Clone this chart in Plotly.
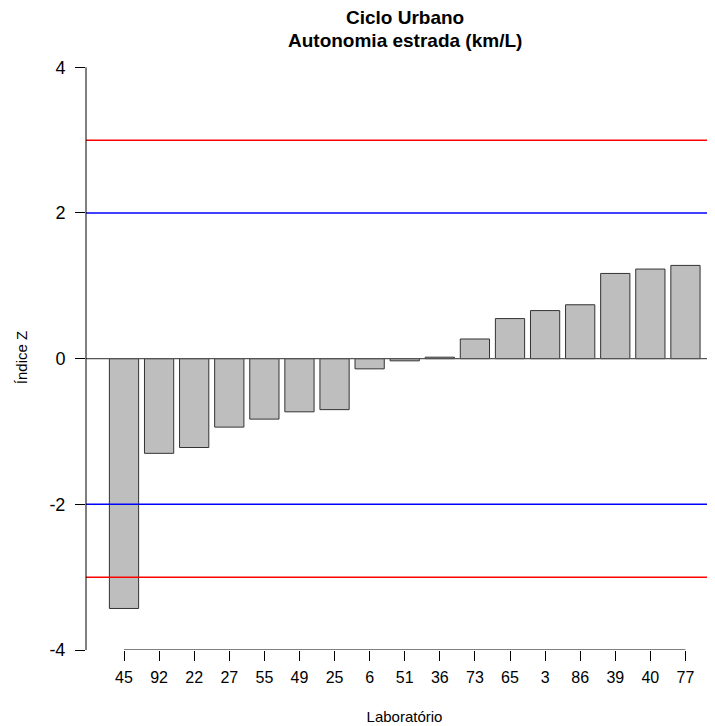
import plotly.graph_objects as go

# laboratorios e indice Z
labs = ['45', '92', '22', '27', '55', '49', '25', '6', '51', '36',
        '73', '65', '3', '86', '39', '40', '77']
z_vals = [-3.43, -1.30, -1.22, -0.94, -0.83, -0.73, -0.70, -0.14, -0.03, 0.02,
          0.27, 0.55, 0.66, 0.74, 1.17, 1.23, 1.28]
y_ticks = [-4, -2, 0, 2, 4]
limites = [(3, 'red'), (-3, 'red'), (2, 'blue'), (-2, 'blue')]

FONT = 'Liberation Sans, Arial, sans-serif'

fig = go.Figure()
fig.add_trace(go.Bar(
    x=list(range(len(labs))),
    y=z_vals,
    marker=dict(color='#bebebe', line=dict(color='#333333', width=1)),
    showlegend=False,
    hoverinfo='x+y'
))

shapes = []
for val, cor in limites:
    shapes.append(dict(type='line', xref='paper', x0=0, x1=1, yref='y', y0=val, y1=val,
                       line=dict(color=cor, width=1.5)))
# linha do zero
shapes.append(dict(type='line', xref='paper', x0=0, x1=1, yref='y', y0=0, y1=0,
                   line=dict(color='#555555', width=1.2)))
# eixo y (de -4 a 4)
shapes.append(dict(type='line', xref='paper', x0=0, x1=0, yref='y',
                   y0=y_ticks[0], y1=y_ticks[-1], line=dict(color='black', width=1)))
# eixo x (do primeiro ao ultimo laboratorio)
shapes.append(dict(type='line', xref='x', x0=0, x1=len(labs) - 1, yref='y',
                   y0=y_ticks[0], y1=y_ticks[0], line=dict(color='black', width=1)))

# titulo em duas linhas
titulo = [('Ciclo Urbano', 1.0445), ('Autonomia estrada (km/L)', 1.005)]
annotations = [dict(text='<b>%s</b>' % t, xref='paper', yref='paper', x=0.5, y=yy,
                    xanchor='center', yanchor='middle', showarrow=False,
                    font=dict(size=19, family=FONT, color='black'))
               for t, yy in titulo]
# titulo do eixo y, centrado como no R
annotations.append(dict(text='Índice Z', xref='paper', yref='paper', x=-0.1, y=0.482,
                        xanchor='center', yanchor='middle', textangle=-90, showarrow=False,
                        font=dict(size=15, family=FONT, color='black')))

# a pagina tem 8px de margem no body: margens compensadas
fig.update_layout(
    width=715, height=726,
    margin=dict(l=78, r=0, t=36, b=84),
    plot_bgcolor='white', paper_bgcolor='white',
    bargap=1 / 6,
    shapes=shapes,
    annotations=annotations,
    font=dict(family=FONT, color='black'),
    xaxis=dict(
        range=[-1.083, 17.07],
        tickmode='array', tickvals=list(range(len(labs))), ticktext=labs,
        ticks='outside', ticklen=10, tickcolor='black',
        showgrid=False, zeroline=False, showline=False,
        tickfont=dict(size=16),
        ticklabelstandoff=3,
        automargin=False,
        title=dict(text='Laboratório', font=dict(size=15), standoff=26)
    ),
    yaxis=dict(
        range=[-4, 4.32],
        tickmode='array', tickvals=y_ticks, ticktext=[str(v) for v in y_ticks],
        ticks='outside', ticklen=10, tickcolor='black',
        showgrid=False, zeroline=False, showline=False,
        tickfont=dict(size=18),
        ticklabelstandoff=6,
        automargin=False
    )
)

fig.write_html("out.html")
